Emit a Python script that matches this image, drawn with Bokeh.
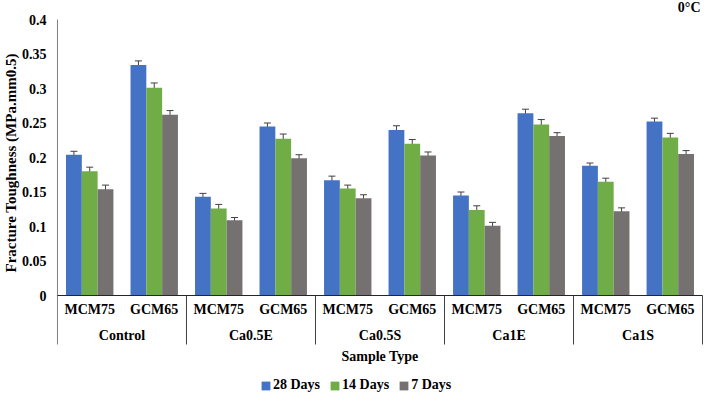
from bokeh.plotting import figure
from bokeh.models import (FactorRange, Range1d, Whisker, TeeHead, Title,
                          FixedTicker, ColumnDataSource)
from bokeh.transform import dodge
from bokeh.core.properties import value
from bokeh.embed import file_html
from bokeh.resources import INLINE

# ---------------- data ----------------
groups = ["Control", "Ca0.5E", "Ca0.5S", "Ca1E", "Ca1S"]
samples = ["MCM75", "GCM65"]
series = ["28 Days", "14 Days", "7 Days"]
d28 = [0.204, 0.334, 0.143, 0.245, 0.167, 0.240, 0.145, 0.264, 0.188, 0.252]
d14 = [0.180, 0.301, 0.126, 0.227, 0.155, 0.220, 0.124, 0.248, 0.165, 0.229]
d7 = [0.154, 0.262, 0.109, 0.199, 0.141, 0.203, 0.101, 0.231, 0.122, 0.205]
e28 = [0.005, 0.006, 0.005, 0.005, 0.006, 0.006, 0.005, 0.006, 0.004, 0.005]
e14 = [0.006, 0.007, 0.006, 0.007, 0.005, 0.006, 0.006, 0.007, 0.005, 0.006]
e7 = [0.006, 0.006, 0.004, 0.005, 0.005, 0.005, 0.005, 0.005, 0.005, 0.005]
y_ticks = [0, 0.05, 0.1, 0.15, 0.2, 0.25, 0.3, 0.35, 0.4]
y_tick_labels = ["0", "0.05", "0.1", "0.15", "0.2", "0.25", "0.3", "0.35", "0.4"]
colors = ["#4472C4", "#70AD47", "#767171"]
title_y = "Fracture Toughness (MPa.mm0.5)"
title_x = "Sample Type"
corner = "0\u00b0C"

FONT = "Liberation Serif, serif"
factors = [(g, s) for g in groups for s in samples]
n = len(factors)

W, H = 703, 393
PAD = 0.015
PPY = 690.0                      # pixels per y unit
Y0 = 295                         # pixel row of y = 0
YMAX_T = 0.4
YTOP = YMAX_T + (Y0 - YMAX_T * PPY) / PPY
YBOT = -(H - Y0) / PPY
ML = 52

p = figure(x_range=FactorRange(*factors, group_padding=0, range_padding=PAD,
                               range_padding_units="absolute"),
           y_range=Range1d(YBOT, YTOP), width=W, height=H,
           output_backend="svg", toolbar_location=None,
           min_border_left=ML, min_border_right=0, min_border_top=0,
           min_border_bottom=0)
p.outline_line_color = None
p.xgrid.visible = False
p.ygrid.visible = False
p.xaxis.visible = False
p.background_fill_color = "white"
p.border_fill_color = "white"

ya = p.yaxis[0]
ya.ticker = FixedTicker(ticks=y_ticks)
ya.major_label_overrides = {t: l for t, l in zip(y_ticks, y_tick_labels)}
ya.axis_line_color = None
ya.major_tick_line_color = None
ya.minor_tick_line_color = None
ya.major_tick_out = 0
ya.major_tick_in = 0
ya.minor_tick_out = 0
ya.major_label_standoff = 10
ya.major_label_text_font = FONT
ya.major_label_text_font_style = "bold"
ya.major_label_text_font_size = "14px"
ya.major_label_text_color = "black"

src = ColumnDataSource(dict(x=factors, d28=d28, d14=d14, d7=d7,
                            u28=[v + e for v, e in zip(d28, e28)],
                            l28=[v - e for v, e in zip(d28, e28)],
                            u14=[v + e for v, e in zip(d14, e14)],
                            l14=[v - e for v, e in zip(d14, e14)],
                            u7=[v + e for v, e in zip(d7, e7)],
                            l7=[v - e for v, e in zip(d7, e7)]))

BW = 0.245
offs = [-BW, 0.0, BW]
keys = ["28", "14", "7"]
for off, k, c, name in zip(offs, keys, colors, series):
    p.vbar(x=dodge("x", off, range=p.x_range), top="d" + k, width=BW,
           source=src, fill_color=c, line_color=None, legend_label=name)
for off, k in zip(offs, keys):
    w = Whisker(base=dodge("x", off, range=p.x_range), upper="u" + k,
                lower="l" + k, source=src, line_color="#404040", line_width=1,
                upper_head=TeeHead(size=7, line_color="#404040", line_width=1),
                lower_head=None)
    p.add_layout(w)

# category axis with group separators
SEP_BOT = -49 / PPY
bounds = [i * len(samples) for i in range(len(groups) + 1)]
p.segment(x0=[bounds[0]], y0=[YMAX_T], x1=[bounds[0]], y1=[SEP_BOT],
          line_color="#7f7f7f", line_width=1)
p.segment(x0=bounds[1:], y0=[0] * (len(bounds) - 1), x1=bounds[1:],
          y1=[SEP_BOT] * (len(bounds) - 1), line_color="#404040", line_width=1)
p.segment(x0=[0], y0=[0], x1=[n], y1=[0], line_color="#262626", line_width=1)

TXT = dict(text_font=value(FONT), text_font_style="bold",
           text_baseline="middle", text_color="black")
p.text(x=factors, y=[-14 / PPY] * n, text=samples * len(groups),
       text_font_size="14px", text_align="center", **TXT)
p.text(x=groups, y=[-40 / PPY] * len(groups), text=groups,
       text_font_size="14px", text_align="center", **TXT)
p.text(x=[n / 2], y=[-61 / PPY], text=[title_x],
       text_font_size="14px", text_align="center", **TXT)
ppu = (W - ML) / (n + 2 * PAD)
p.text(x=[n + PAD - 3 / ppu], y=[YTOP - 7 / PPY], text=[corner],
       text_font_size="14px", text_align="right", **TXT)

# y title
yt = Title(text=title_y, align="left", offset=121, standoff=0,
           text_font=FONT, text_font_style="bold", text_font_size="15px",
           text_color="black")
p.add_layout(yt, "left")

lg = p.legend[0]
lg.orientation = "horizontal"
lg.location = (204, 0)
lg.glyph_width = 11
lg.glyph_height = 11
lg.label_height = 12
lg.label_standoff = 2
lg.spacing = 9
lg.padding = 0
lg.margin = 0
lg.border_line_color = None
lg.background_fill_alpha = 0
lg.label_text_font = FONT
lg.label_text_font_style = "bold"
lg.label_text_font_size = "14px"
lg.label_text_color = "black"

open("out.html", "w").write(file_html(p, INLINE))
